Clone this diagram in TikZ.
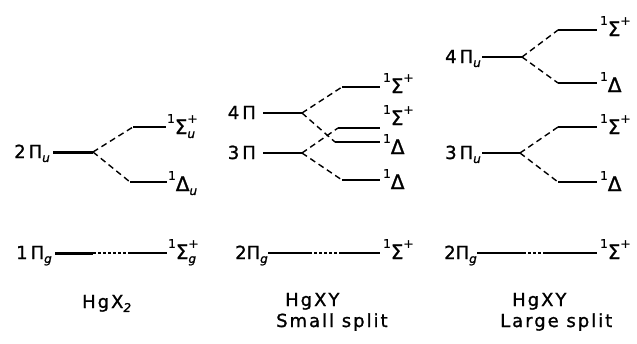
\documentclass[tikz,border=0pt]{standalone}
\usepackage{fontspec}
\setmainfont{DejaVu Sans}[FakeBold=1.2]
\newfontfamily\capfont{DejaVu Sans}[LetterSpace=11,FakeBold=1.2]
\newcommand{\up}[1]{\raisebox{0.62em}{\fontsize{12}{13}\selectfont #1}}
\newcommand{\dn}[1]{\raisebox{-0.22em}{\fontsize{12}{13}\selectfont\itshape #1}}
\newcommand{\updn}[2]{\rlap{\up{#1}}\dn{#2}}
\newcommand{\bigsym}[1]{{\fontsize{20}{22}\selectfont #1}}
\begin{document}
\begin{tikzpicture}[x=1pt,y=-1pt,
  lvl/.style={line width=1.9pt},
  heavylvl/.style={line width=3pt},
  split/.style={dash pattern=on 6pt off 4pt, line width=1.4pt},
  dotlvl/.style={dash pattern=on 2.5pt off 2.5pt, line width=1.6pt},
  llab/.style={font=\fontsize{18}{20}\selectfont, inner sep=0pt, anchor=base east},
  rlab/.style={font=\fontsize{18}{20}\selectfont, inner sep=0pt, anchor=base west},
  captext/.style={font=\capfont\fontsize{18}{20}\selectfont, inner sep=0pt, anchor=base west}]
\useasboundingbox (0,0) rectangle (637,343);

% ---------- Panel 1: HgX2 ----------
\coordinate (p1a) at (53,152); \coordinate (p1b) at (93,152);
\coordinate (s1a) at (133,127); \coordinate (s1b) at (166,127);
\coordinate (d1a) at (130,182); \coordinate (d1b) at (167,182);
\draw[heavylvl] (p1a) -- (p1b);
\draw[lvl] (s1a) -- (s1b);
\draw[lvl] (d1a) -- (d1b);
\draw[split] (p1b) -- (s1a);
\draw[split] (p1b) -- (d1a);
\node[llab] (n2piu) at ([shift={(-3,6)}]p1a) {2\,Π\dn{u}};
\node[rlab] (nsu) at ([shift={(1,7)}]s1b) {\up{1}\bigsym{Σ}\updn{+}{u}};
\node[rlab] (ndu) at ([shift={(1,9)}]d1b) {\up{1}\bigsym{Δ}\dn{u}};

\coordinate (g1a) at (55,253); \coordinate (g1b) at (93,253);
\coordinate (g1c) at (130,253); \coordinate (g1d) at (167,253);
\draw[heavylvl] (g1a) -- (g1b);
\draw[dotlvl] (g1b) -- (g1c);
\draw[lvl] (g1c) -- (g1d);
\node[llab] (n1pig) at ([shift={(-3,6)}]g1a) {1\,Π\dn{g}};
\node[rlab] (nsg) at ([shift={(1,6)}]g1d) {\up{1}\bigsym{Σ}\updn{+}{g}};
\node[captext] (t1) at (82,308) {HgX\dn{2}};

% ---------- Panel 2: HgXY small split ----------
\coordinate (p4a) at (263,113); \coordinate (p4b) at (302,113);
\coordinate (p3a) at (263,153); \coordinate (p3b) at (302,153);
\coordinate (s2ta) at (342,87);  \coordinate (s2tb) at (380,87);
\coordinate (s2ma) at (338,128); \coordinate (s2mb) at (380,128);
\coordinate (d2ma) at (335,142); \coordinate (d2mb) at (380,142);
\coordinate (d2ba) at (342,180); \coordinate (d2bb) at (380,180);
\draw[lvl] (p4a) -- (p4b);
\draw[lvl] (p3a) -- (p3b);
\draw[lvl] (s2ta) -- (s2tb);
\draw[lvl] (s2ma) -- (s2mb);
\draw[lvl] (d2ma) -- (d2mb);
\draw[lvl] (d2ba) -- (d2bb);
\draw[split] (p4b) -- (s2ta);
\draw[split] (p4b) -- (d2ma);
\draw[split] (p3b) -- (s2ma);
\draw[split] (p3b) -- (d2ba);
\node[llab] (n4pi) at ([shift={(-7,6)}]p4a) {4\,Π};
\node[llab] (n3pi) at ([shift={(-7,6)}]p3a) {3\,Π};
\node[rlab] (ns2t) at ([shift={(3,6)}]s2tb) {\up{1}\bigsym{Σ}\up{+}};
\node[rlab] (ns2m) at ([shift={(3,-3)}]s2mb) {\up{1}\bigsym{Σ}\up{+}};
\node[rlab] (nd2m) at ([shift={(3,12)}]d2mb) {\up{1}\bigsym{Δ}};
\node[rlab] (nd2b) at ([shift={(3,9)}]d2bb) {\up{1}\bigsym{Δ}};

\coordinate (g2a) at (268,253); \coordinate (g2b) at (309,253);
\coordinate (g2c) at (342,253); \coordinate (g2d) at (380,253);
\draw[lvl] (g2a) -- (g2b);
\draw[dotlvl] (g2b) -- (g2c);
\draw[lvl] (g2c) -- (g2d);
\node[llab] (n2pig) at ([shift={(0,6)}]g2a) {2Π\dn{g}};
\node[rlab] (ns2g) at ([shift={(3,6)}]g2d) {\up{1}\bigsym{Σ}\up{+}};
\node[captext] (t2a) at (285,306) {HgXY};
\node[captext] (t2b) at (276,327) {Small split};

% ---------- Panel 3: HgXY large split ----------
\coordinate (q4a) at (482,57); \coordinate (q4b) at (522,57);
\coordinate (q3a) at (482,153); \coordinate (q3b) at (520,153);
\coordinate (s3ta) at (558,30);  \coordinate (s3tb) at (597,30);
\coordinate (d3ta) at (558,83);  \coordinate (d3tb) at (597,83);
\coordinate (s3ba) at (558,127); \coordinate (s3bb) at (597,127);
\coordinate (d3ba) at (558,182); \coordinate (d3bb) at (597,182);
\draw[lvl] (q4a) -- (q4b);
\draw[lvl] (q3a) -- (q3b);
\draw[lvl] (s3ta) -- (s3tb);
\draw[lvl] (d3ta) -- (d3tb);
\draw[lvl] (s3ba) -- (s3bb);
\draw[lvl] (d3ba) -- (d3bb);
\draw[split] (q4b) -- (s3ta);
\draw[split] (q4b) -- (d3ta);
\draw[split] (q3b) -- (s3ba);
\draw[split] (q3b) -- (d3ba);
\node[llab] (n4piu) at ([shift={(-1,6)}]q4a) {4\,Π\dn{u}};
\node[llab] (n3piu) at ([shift={(-1,6)}]q3a) {3\,Π\dn{u}};
\node[rlab] (ns3t) at ([shift={(3,6)}]s3tb) {\up{1}\bigsym{Σ}\up{+}};
\node[rlab] (nd3t) at ([shift={(3,9)}]d3tb) {\up{1}\bigsym{Δ}};
\node[rlab] (ns3b) at ([shift={(3,7)}]s3bb) {\up{1}\bigsym{Σ}\up{+}};
\node[rlab] (nd3b) at ([shift={(3,9)}]d3bb) {\up{1}\bigsym{Δ}};

\coordinate (g3a) at (477,253); \coordinate (g3b) at (523,253);
\coordinate (g3c) at (545,253); \coordinate (g3d) at (597,253);
\draw[lvl] (g3a) -- (g3b);
\draw[dotlvl] (g3b) -- (g3c);
\draw[lvl] (g3c) -- (g3d);
\node[llab] (n2pig3) at ([shift={(0,6)}]g3a) {2Π\dn{g}};
\node[rlab] (ns3g) at ([shift={(3,6)}]g3d) {\up{1}\bigsym{Σ}\up{+}};
\node[captext] (t3a) at (512,306) {HgXY};
\node[captext] (t3b) at (500,327) {Large split};
\end{tikzpicture}
\end{document}
